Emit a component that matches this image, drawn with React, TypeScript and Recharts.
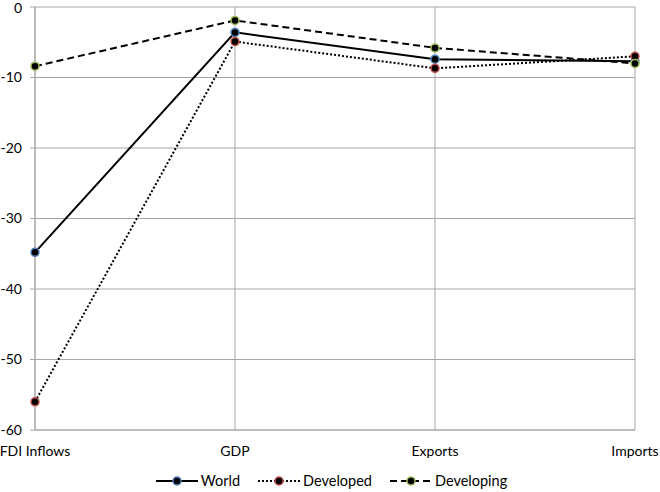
import { LineChart, Line, XAxis, YAxis, CartesianGrid, Legend } from "recharts";

const categories = ["FDI Inflows", "GDP", "Exports", "Imports"];
const world = [-34.8, -3.6, -7.4, -7.7];
const developed = [-56.0, -4.9, -8.7, -7.0];
const developing = [-8.4, -1.9, -5.8, -8.0];
const yTicks = [-60, -50, -40, -30, -20, -10, 0];

const FONT = "Lato, 'Open Sans', sans-serif";
const GRID = "#a6a6a6";

const series = [
  { key: "World", values: world, marker: "#4f81bd", dash: undefined as string | undefined },
  { key: "Developed", values: developed, marker: "#c0504d", dash: "2 2" },
  { key: "Developing", values: developing, marker: "#9bbb59", dash: "7 4" },
];

const data = categories.map((c, i) => {
  const row: Record<string, string | number> = { name: c };
  series.forEach((s) => (row[s.key] = s.values[i]));
  return row;
});

function LegendBox() {
  return (
    <div
      style={{
        display: "flex",
        justifyContent: "center",
        alignItems: "center",
        height: 26,
        paddingTop: 3,
        paddingLeft: 28,
        boxSizing: "border-box",
        fontFamily: FONT,
        fontSize: 14.5,
        color: "#000",
        gap: 18,
      }}
    >
      {series.map((s) => (
        <div key={s.key} style={{ display: "flex", alignItems: "center" }}>
          <svg width={42} height={12}>
            <line x1={0} x2={42} y1={6} y2={6} stroke="#000" strokeWidth={2} strokeDasharray={s.dash} />
            <circle cx={21} cy={6} r={4} fill="#000" stroke={s.marker} strokeWidth={1.5} />
          </svg>
          <span style={{ marginLeft: 3 }}>{s.key}</span>
        </div>
      ))}
    </div>
  );
}

export default function App() {
  return (
    <div style={{ position: "absolute", left: 0, top: 0, width: 660, height: 492, background: "#fff" }}>
      <LineChart width={660} height={492} data={data} margin={{ top: 7, right: 25, left: 0, bottom: 0 }}>
        <CartesianGrid stroke={GRID} strokeWidth={1} />
        <XAxis
          dataKey="name"
          axisLine={{ stroke: GRID }}
          tickLine={false}
          tickMargin={10}
          height={36}
          interval={0}
          tick={{ fill: "#000", fontSize: 14, fontFamily: FONT }}
        />
        <YAxis
          domain={[-60, 0]}
          ticks={yTicks}
          width={35}
          axisLine={{ stroke: GRID }}
          tickLine={{ stroke: GRID }}
          tickSize={5}
          tickMargin={8}
          tick={{ fill: "#000", fontSize: 14, fontFamily: FONT }}
        />
        <Legend verticalAlign="bottom" content={() => <LegendBox />} />
        {series.map((s) => (
          <Line
            key={s.key}
            dataKey={s.key}
            stroke="#000"
            strokeWidth={2}
            strokeDasharray={s.dash}
            dot={{ r: 4, fill: "#000", stroke: s.marker, strokeWidth: 1.5, strokeDasharray: "" }}
            activeDot={false}
            isAnimationActive={false}
          />
        ))}
      </LineChart>
    </div>
  );
}
